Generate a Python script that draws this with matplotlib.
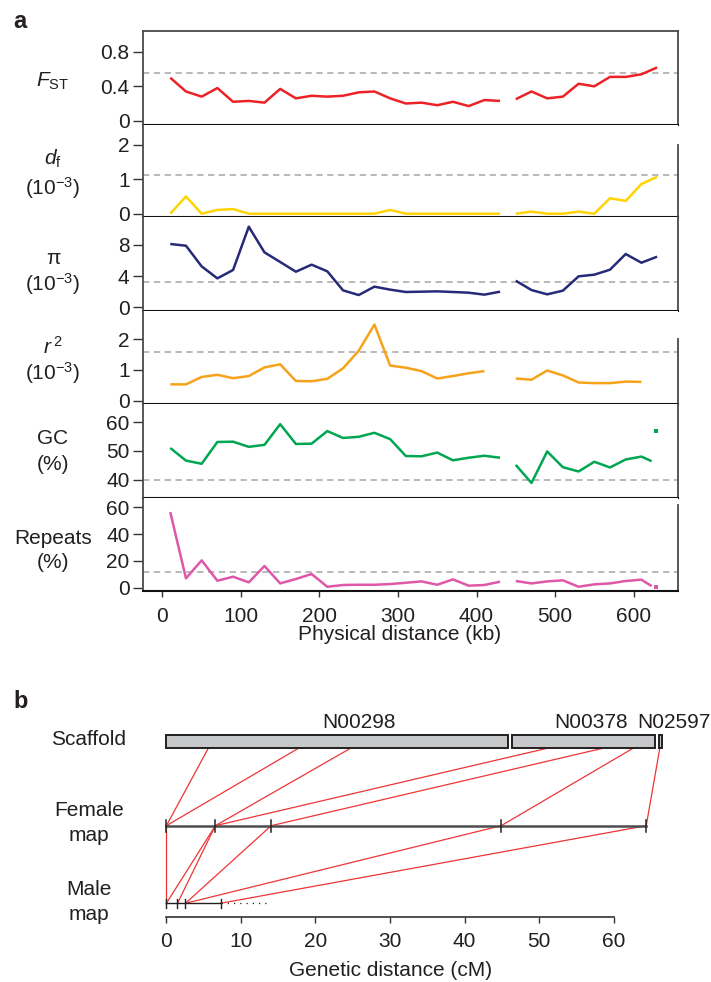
import matplotlib
matplotlib.use('Agg')
import matplotlib.pyplot as plt
from matplotlib.patches import Rectangle

plt.rcParams['font.family'] = ['Liberation Sans', 'DejaVu Sans']
plt.rcParams['mathtext.fontset'] = 'custom'
plt.rcParams['mathtext.rm'] = 'Liberation Sans'
plt.rcParams['mathtext.it'] = 'Liberation Sans:italic'
plt.rcParams['mathtext.bf'] = 'Liberation Sans:bold'

# ---------------- data: panel a ----------------
kb_left = [10, 30, 50, 70, 90, 110, 130, 150, 170, 190, 210, 230, 250, 270,
           290, 310, 330, 350, 370, 390, 410, 430]
kb_right = [450, 470, 490, 510, 530, 550, 570, 590, 610, 630]
kb_left_r2 = [10, 30, 50, 70, 90, 110, 130, 150, 170, 190, 210, 230, 250, 270,
              290, 310, 330, 350, 370, 390, 410]
kb_right_r2 = [450, 470, 490, 510, 530, 550, 570, 590, 610]
kb_right_seq = [450, 470, 490, 510, 530, 550, 570, 590, 610, 623]
kb_small_scaffold = [629]

fst_left = [0.50, 0.34, 0.28, 0.38, 0.22, 0.23, 0.21, 0.37, 0.26, 0.29, 0.28,
            0.29, 0.33, 0.34, 0.26, 0.20, 0.21, 0.18, 0.22, 0.17, 0.24, 0.23]
fst_right = [0.25, 0.34, 0.26, 0.28, 0.43, 0.40, 0.51, 0.51, 0.54, 0.62]

df_left = [0, 0.50, 0, 0.11, 0.135, 0, 0, 0, 0, 0, 0, 0, 0, 0, 0.11, 0, 0,
           0, 0, 0, 0, 0]
df_right = [0, 0.06, 0, 0, 0.06, 0, 0.45, 0.37, 0.86, 1.07]

pi_left = [8.09, 7.87, 5.23, 3.70, 4.77, 10.30, 7.02, 5.79, 4.55, 5.45, 4.60,
           2.17, 1.57, 2.64, 2.26, 1.96, 2.00, 2.04, 1.96, 1.87, 1.62, 2.00]
pi_right = [3.40, 2.21, 1.66, 2.13, 3.96, 4.17, 4.81, 6.81, 5.70, 6.47]

r2_left = [0.53, 0.53, 0.77, 0.84, 0.73, 0.80, 1.08, 1.18, 0.64, 0.63, 0.71,
           1.05, 1.62, 2.47, 1.14, 1.07, 0.96, 0.72, 0.80, 0.89, 0.96]
r2_right = [0.72, 0.68, 0.98, 0.82, 0.59, 0.57, 0.57, 0.62, 0.61]

gc_left = [51.0, 46.6, 45.5, 53.1, 53.2, 51.4, 52.1, 59.3, 52.4, 52.5, 56.9,
           54.5, 54.9, 56.3, 54.1, 48.2, 48.1, 49.4, 46.7, 47.6, 48.3, 47.6]
gc_right = [45.1, 38.8, 49.8, 44.3, 42.8, 46.2, 44.2, 47.0, 48.0, 46.4]
gc_small = [57.1]

rep_left = [56.5, 7.0, 20.4, 5.2, 8.2, 4.0, 16.2, 3.2, 6.5, 10.2, 0.7, 2.0,
            2.2, 2.2, 2.7, 3.7, 4.7, 2.2, 6.2, 1.5, 2.0, 4.5]
rep_right = [5.0, 3.2, 4.7, 5.5, 0.7, 2.5, 3.2, 5.0, 6.0, 1.2]
rep_small = [0.3]

thresholds = [0.56, 1.13, 3.28, 1.58, 40.0, 11.7]
ytick_vals = [[0, 0.4, 0.8], [0, 1, 2], [0, 4, 8], [0, 1, 2], [40, 50, 60],
              [0, 20, 40, 60]]
ytick_labels = [['0', '0.4', '0.8'], ['0', '1', '2'], ['0', '4', '8'],
                ['0', '1', '2'], ['40', '50', '60'], ['0', '20', '40', '60']]
xtick_vals = [0, 100, 200, 300, 400, 500, 600]

# ---------------- data: panel b ----------------
scaffold_names = ['N00298', 'N00378', 'N02597']
scaffold_start = [0.0, 46.4, 66.07]
scaffold_end = [45.9, 65.6, 66.45]
scaffold_label_cm = [25.8, 57.0, 68.1]
link_scaffold_cm = [5.62, 17.72, 24.69, 51.08, 58.53, 62.6, 66.2]
link_female_cm = [0, 0, 6.57, 6.57, 14.06, 44.92, 64.38]
female_ticks = [0, 6.57, 14.06, 44.92, 64.38]
male_ticks = [0, 1.49, 2.56, 7.27]
fm_female_cm = [0, 6.57, 6.57, 14.06, 44.92, 64.38]
fm_male_cm = [0, 0, 1.49, 2.56, 2.56, 7.27]
male_dotted_end = 13.5
gen_xticks = [0, 10, 20, 30, 40, 50, 60]

# ---------------- figure ----------------
TXT = '#231f20'
FS = 15
fig = plt.figure(figsize=(7.11, 9.82), dpi=100)
W, H = 711.0, 982.0


def add_ax(l, t, r, b):
    return fig.add_axes([l / W, 1 - b / H, (r - l) / W, (b - t) / H])


def ftext(x, y, s, **kw):
    kw.setdefault('color', TXT)
    return fig.text(x / W, 1 - y / H, s, **kw)


bounds = [30.7, 124.7, 217.3, 310.7, 404.3, 497.7, 590.7]
ylims = [(-0.047, 1.048), (-0.104, 2.58), (-0.43, 11.5), (-0.117, 2.92),
         (33.66, 66.24), (-2.24, 67.2)]
colors = ['#ec2227', '#ffd400', '#262a78', '#f7a21b', '#00a651', '#df57a8']
series = [
    [(kb_left, fst_left), (kb_right, fst_right)],
    [(kb_left, df_left), (kb_right, df_right)],
    [(kb_left, pi_left), (kb_right, pi_right)],
    [(kb_left_r2, r2_left), (kb_right_r2, r2_right)],
    [(kb_left, gc_left), (kb_right_seq, gc_right)],
    [(kb_left, rep_left), (kb_right_seq, rep_right)],
]
smalls = [None, None, None, None, gc_small, rep_small]
right_spine_top = [None, 2.0, None, 2.0, None, 62]

for i in range(6):
    ax = add_ax(143.4, bounds[i], 678, bounds[i + 1])
    ax.set_xlim(-24.2, 656.6)
    ax.set_ylim(*ylims[i])
    ax.axhline(thresholds[i], color='#b3b3b3', lw=1.3,
               linestyle=(0, (3.5, 2.5)), zorder=1)
    for xs, ys in series[i]:
        ax.plot(xs, ys, color=colors[i], lw=1.8, zorder=3,
                solid_joinstyle='round', solid_capstyle='butt')
    if smalls[i] is not None:
        ax.plot(kb_small_scaffold, smalls[i], linestyle='none', marker='s',
                markersize=2.6, color=colors[i], markeredgewidth=0)
    ax.set_yticks(ytick_vals[i])
    ax.set_yticklabels(ytick_labels[i])
    ax.tick_params(axis='y', direction='out', length=7.5, width=1.0, pad=2.5,
                   labelsize=FS, labelcolor=TXT, color='#333333')
    for s in ['left', 'right', 'top', 'bottom']:
        ax.spines[s].set_color('#4a4a4a')
        ax.spines[s].set_linewidth(1.3)
    ax.spines['bottom'].set_color('#111111')
    ax.spines['bottom'].set_linewidth(1.5)
    if i > 0:
        ax.spines['top'].set_visible(False)
    if right_spine_top[i] is not None:
        ax.spines['right'].set_bounds(ylims[i][0], right_spine_top[i])
    if i < 5:
        ax.set_xticks([])
    else:
        ax.set_xticks(xtick_vals)
        ax.set_xticklabels([str(v) for v in xtick_vals])
        ax.tick_params(axis='x', direction='out', length=4.5, width=1.0,
                       pad=7, labelsize=FS, labelcolor=TXT, color='#333333')

# y labels of panel a
LX = 53
ftext(LX, 81, r'$\mathit{F}_{\mathrm{ST}}$', ha='center', va='center', fontsize=FS)
ftext(LX, 159, r'$\mathit{d}_{\mathrm{f}}$', ha='center', va='center', fontsize=FS)
ftext(LX, 188, r'$(10^{-3})$', ha='center', va='center', fontsize=FS)
ftext(LX, 258, 'π', ha='center', va='center', fontsize=FS)
ftext(LX, 284, r'$(10^{-3})$', ha='center', va='center', fontsize=FS)
ftext(LX, 347, r'$\mathit{r}^{\,2}$', ha='center', va='center', fontsize=FS)
ftext(LX, 373, r'$(10^{-3})$', ha='center', va='center', fontsize=FS)
ftext(LX, 439, 'GC', ha='center', va='center', fontsize=FS)
ftext(LX, 465, '(%)', ha='center', va='center', fontsize=FS)
ftext(LX, 538, 'Repeats', ha='center', va='center', fontsize=FS)
ftext(LX, 563, '(%)', ha='center', va='center', fontsize=FS)
ftext(400, 640, 'Physical distance (kb)', ha='center', va='baseline', fontsize=FS)

ftext(13, 28, 'a', ha='left', va='baseline', fontsize=17, fontweight='bold')
ftext(13, 708, 'b', ha='left', va='baseline', fontsize=17, fontweight='bold')

# ---------------- panel b ----------------
axb = add_ax(140, 690, 711, 916.7)
axb.set_xlim(-3.54, 73.07)
axb.set_ylim(916.7, 690)
Y_BAR_TOP, Y_BAR_BOT = 735.0, 748.3
Y_FEM, Y_MALE = 825.7, 903.3
RED = '#ee3535'

for x0, x1 in zip(scaffold_start, scaffold_end):
    axb.add_patch(Rectangle((x0, Y_BAR_TOP), x1 - x0, Y_BAR_BOT - Y_BAR_TOP,
                            facecolor='#c7c8ca', edgecolor=TXT, lw=1.4,
                            zorder=2, clip_on=False))
for name, xc in zip(scaffold_names, scaffold_label_cm):
    axb.text(xc, 728, name, ha='center', va='baseline', fontsize=FS,
             color=TXT, clip_on=False)

for xs, xf in zip(link_scaffold_cm, link_female_cm):
    axb.plot([xs, xf], [Y_BAR_BOT, Y_FEM], color=RED, lw=0.9, zorder=1,
             clip_on=False)
for xf, xm in zip(fm_female_cm, fm_male_cm):
    axb.plot([xf, xm], [Y_FEM, Y_MALE], color=RED, lw=0.9, zorder=1,
             clip_on=False)

axb.plot([female_ticks[0], female_ticks[-1]], [Y_FEM, Y_FEM],
         color='#4d4d4d', lw=1.8, zorder=3, clip_on=False)
for t in female_ticks:
    axb.plot([t, t], [Y_FEM - 6, Y_FEM + 6], color=TXT, lw=1.1, zorder=4,
             clip_on=False)
axb.plot([male_ticks[0], male_ticks[-1]], [Y_MALE, Y_MALE], color=TXT,
         lw=1.0, zorder=3, clip_on=False)
axb.plot([male_ticks[-1], male_dotted_end], [Y_MALE, Y_MALE], color=TXT,
         lw=0.9, linestyle=(0, (1, 4)), zorder=3, clip_on=False)
for t in male_ticks:
    axb.plot([t, t], [Y_MALE - 4.5, Y_MALE + 4.5], color=TXT, lw=1.0,
             zorder=4, clip_on=False)

for s in ['left', 'right', 'top']:
    axb.spines[s].set_visible(False)
axb.spines['bottom'].set_bounds(0, 60)
axb.spines['bottom'].set_color('#333333')
axb.spines['bottom'].set_linewidth(1.2)
axb.set_yticks([])
axb.set_xticks(gen_xticks)
axb.set_xticklabels([str(v) for v in gen_xticks])
axb.tick_params(axis='x', direction='out', length=4, width=1.0, pad=7,
                labelsize=FS, labelcolor=TXT, color='#333333')
axb.patch.set_visible(False)

ftext(89, 745, 'Scaffold', ha='center', va='baseline', fontsize=FS)
ftext(89, 816, 'Female', ha='center', va='baseline', fontsize=FS)
ftext(89, 841, 'map', ha='center', va='baseline', fontsize=FS)
ftext(89, 895, 'Male', ha='center', va='baseline', fontsize=FS)
ftext(89, 920, 'map', ha='center', va='baseline', fontsize=FS)
ftext(391, 976, 'Genetic distance (cM)', ha='center', va='baseline', fontsize=FS)

fig.savefig('out.png', dpi=100)
